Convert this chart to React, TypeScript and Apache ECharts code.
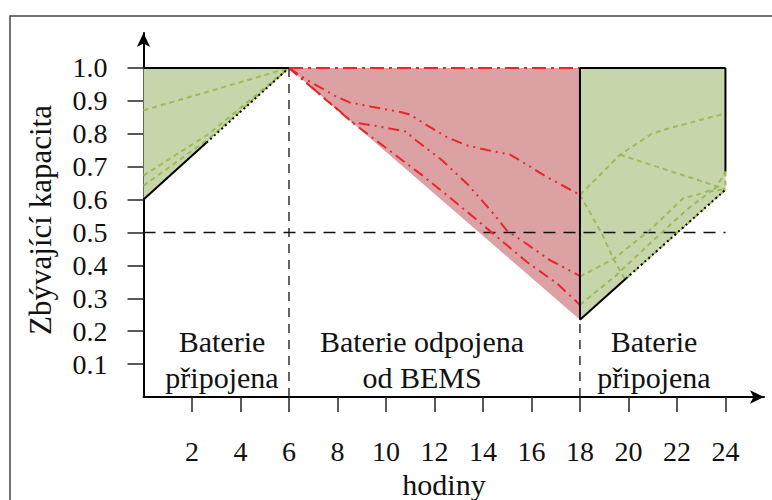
import React, { useEffect, useRef } from "react";
import * as echarts from "echarts";

// ---- data ----
const xTicks = [2, 4, 6, 8, 10, 12, 14, 16, 18, 20, 22, 24];
const yTicks = [0.1, 0.2, 0.3, 0.4, 0.5, 0.6, 0.7, 0.8, 0.9, 1.0];

const leftRegion = [[0, 1.0], [6, 1.0], [0, 0.6]];
const midRegion = [[6, 1.0], [18, 1.0], [18, 0.235]];
const rightRegion = [[18, 1.0], [24, 1.0], [24, 0.63], [18, 0.235]];

const leftG1 = [[0, 0.871], [3, 0.935], [6, 1.0]];
const leftG2 = [[0, 0.673], [2.7, 0.8], [6, 1.0]];
const leftG3 = [[0, 0.642], [2.7, 0.785], [6, 1.0]];

const redTop = [[6, 1.0], [18, 1.0]];
const redA = [[6, 1.0], [6.66, 0.967], [7.9, 0.915], [8.5, 0.895], [9.4, 0.882], [10.6, 0.866], [11.0, 0.858], [11.7, 0.825], [12.5, 0.79], [13.3, 0.765], [14.2, 0.75], [15.1, 0.737], [15.5, 0.72], [16.6, 0.67], [18, 0.614]];
const redB = [[6, 1.0], [8.64, 0.834], [9.5, 0.825], [10.85, 0.806], [11.13, 0.786], [12.3, 0.72], [13.4, 0.644], [14.36, 0.563], [15.0, 0.505], [15.53, 0.479], [16.76, 0.416], [18, 0.368]];
const redC = [[6, 1.0], [8.6, 0.835], [10.37, 0.736], [11.47, 0.675], [12.5, 0.614], [13.67, 0.543], [15.8, 0.411], [17.04, 0.346], [18, 0.28]];

const rightG1 = [[18, 0.614], [19.65, 0.736], [20.96, 0.8], [21.71, 0.817], [24, 0.862]];
const rightG2 = [[19.65, 0.736], [23.5, 0.644], [24, 0.631]];
const rightG3 = [[18, 0.614], [18.9, 0.497], [19.37, 0.421], [19.86, 0.357], [24, 0.63]];
const rightG4 = [[18, 0.366], [19.4, 0.42], [20.9, 0.508], [22.26, 0.604], [23.0, 0.618], [23.6, 0.635], [24, 0.685]];
const rightG5 = [[18, 0.28], [19.5, 0.37], [20.5, 0.44], [21.57, 0.513], [22.5, 0.575], [23.4, 0.625], [24, 0.632]];

const leftTop = [[0, 1.0], [6, 1.0]];
const leftLowerSolid = [[0, 0.6], [2.6, 0.773]];
const leftLowerDotted = [[2.6, 0.773], [6, 1.0]];
const rightTop = [[18, 1.0], [24, 1.0]];
const rightEdge = [[24, 1.0], [24, 0.685]];
const rightEdgeLow = [[24, 0.685], [24, 0.63]];
const midEdge = [[18, 1.0], [18, 0.235]];
const rightLowerSolid = [[18, 0.235], [19.9, 0.36]];
const rightLowerDotted = [[19.9, 0.36], [24, 0.63]];

const divider6 = [[6, 0], [6, 1.0]];
const divider18 = [[18, 0], [18, 0.235]];
const halfLine = [[0, 0.5], [24, 0.5]];

const labelLeft = ["Baterie", "připojena"];
const labelMid = ["Baterie odpojena", "od BEMS"];
const labelRight = ["Baterie", "připojena"];
const yName = "Zbývající kapacita";
const xName = "hodiny";

// ---- styles ----
const FONT = "Liberation Serif";
const GREEN_FILL = "#c6d5aa";
const RED_FILL = "#dca1a2";
const GREEN_LINE = "#9bbb59";
const RED_LINE = "#e8262b";

const line = (data: number[][], color: string, width: number, type: any, z: number) => ({
  type: "line",
  data,
  symbol: "none",
  showSymbol: false,
  silent: true,
  z,
  lineStyle: { color, width, type, cap: "butt" },
});

const poly = (pts: number[][], color: string) => ({
  type: "custom",
  data: pts,
  z: 1,
  silent: true,
  encode: { x: 0, y: 1 },
  renderItem: (params: any, api: any) => {
    if (params.dataIndex !== 0) return null;
    const points = pts.map((p) => api.coord(p));
    return { type: "polygon", shape: { points }, style: { fill: color } };
  },
});

export default function App() {
  const ref = useRef<HTMLDivElement>(null);
  useEffect(() => {
    if (!ref.current) return;
    const chart = echarts.init(ref.current, undefined, { renderer: "svg" });
    const textStyle = (x: number, y: number, text: string, size: number) => ({
      type: "text",
      x,
      y,
      silent: true,
      style: {
        text,
        fill: "#111",
        fontSize: size,
        fontFamily: FONT,
        textAlign: "center",
        textVerticalAlign: "middle",
      },
    });
    chart.setOption({
      animation: false,
      grid: { left: 143.5, top: 33, width: 620.5, height: 364 },
      xAxis: {
        type: "value",
        min: 0,
        max: 25.59,
        splitLine: { show: false },
        axisLine: { show: true, symbol: ["none", "arrow"], symbolSize: [10, 14], lineStyle: { color: "#000", width: 2 } },
        axisTick: { show: true, inside: false, length: 15, customValues: xTicks, lineStyle: { color: "#222", width: 1.5 } },
        axisLabel: { customValues: xTicks, margin: 40, fontSize: 28, fontFamily: FONT, color: "#111" },
      },
      yAxis: {
        type: "value",
        min: 0,
        max: 1.106,
        splitLine: { show: false },
        axisLine: { show: true, symbol: ["none", "arrow"], symbolSize: [10, 14], lineStyle: { color: "#000", width: 2 } },
        axisTick: { show: true, inside: false, length: 16, customValues: yTicks, lineStyle: { color: "#222", width: 1.5 } },
        axisLabel: {
          customValues: yTicks,
          margin: 36,
          fontSize: 28,
          fontFamily: FONT,
          color: "#111",
          formatter: (v: number) => v.toFixed(1),
        },
      },
      graphic: [
        { type: "rect", shape: { x: 10, y: 16, width: 800, height: 600 }, style: { fill: "none", stroke: "#444", lineWidth: 1.5 }, silent: true },
        { ...textStyle(40, 220, yName, 31), rotation: Math.PI / 2 },
        textStyle(444, 484, xName, 30),
        textStyle(222, 341, labelLeft[0], 30),
        textStyle(222, 377, labelLeft[1], 30),
        textStyle(422, 341, labelMid[0], 30),
        textStyle(422, 377, labelMid[1], 30),
        textStyle(654, 341, labelRight[0], 30),
        textStyle(654, 377, labelRight[1], 30),
      ],
      series: [
        poly(leftRegion, GREEN_FILL),
        poly(midRegion, RED_FILL),
        poly(rightRegion, GREEN_FILL),
        line(divider6, "#111", 1.3, [9, 7], 3),
        line(divider18, "#111", 1.3, [9, 7], 3),
        line(halfLine, "#111", 1.5, [12, 8], 3),
        line(leftG1, GREEN_LINE, 2, [5, 4], 4),
        line(leftG2, GREEN_LINE, 2, [5, 4], 4),
        line(leftG3, GREEN_LINE, 2, [5, 4], 4),
        line(rightG1, GREEN_LINE, 2, [5, 4], 4),
        line(rightG2, GREEN_LINE, 2, [5, 4], 4),
        line(rightG3, GREEN_LINE, 2, [5, 4], 4),
        line(rightG4, GREEN_LINE, 2, [5, 4], 4),
        line(rightG5, GREEN_LINE, 2, [5, 4], 4),
        line(redTop, RED_LINE, 2, [14, 5, 3, 5], 4),
        line(redA, RED_LINE, 2, [11, 5, 2, 5, 2, 5], 4),
        line(redB, RED_LINE, 2, [11, 5, 2, 5, 2, 5], 4),
        line(redC, RED_LINE, 2, [11, 5, 2, 5], 4),
        line(leftTop, "#000", 2, "solid", 5),
        line(leftLowerSolid, "#000", 2, "solid", 5),
        line(leftLowerDotted, "#000", 2, [2, 3], 5),
        line(rightTop, "#000", 2, "solid", 5),
        line(rightEdge, "#000", 2, "solid", 5),
        line(rightEdgeLow, GREEN_LINE, 2, [5, 4], 5),
        line(midEdge, "#000", 2, "solid", 5),
        line(rightLowerSolid, "#000", 2, "solid", 5),
        line(rightLowerDotted, "#000", 2, [2, 3], 5),
      ],
    });
    return () => chart.dispose();
  }, []);
  return <div ref={ref} style={{ position: "fixed", left: 0, top: 0, width: 772, height: 500, background: "#fff" }} />;
}
